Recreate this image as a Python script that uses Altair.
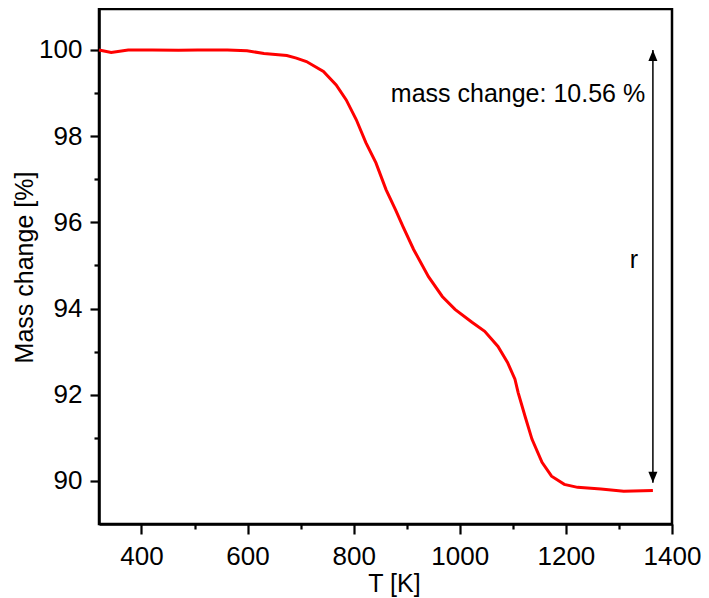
import altair as alt
import pandas as pd

# TGA curve
temperature = [320, 343, 375, 420, 470, 506, 562, 599, 631, 674, 692, 711, 743, 767,
               786, 805, 823, 842, 861, 879, 893, 913, 941, 967, 991, 1023, 1047,
               1072, 1090, 1104, 1110, 1123, 1136, 1155, 1173, 1197, 1222, 1266,
               1309, 1364]
mass = [100.00, 99.94, 100.00, 100.00, 99.99, 100.00, 100.00, 99.98, 99.92, 99.87,
        99.81, 99.73, 99.50, 99.19, 98.84, 98.38, 97.85, 97.38, 96.76, 96.29,
        95.90, 95.37, 94.74, 94.28, 93.98, 93.68, 93.47, 93.12, 92.75, 92.36,
        92.05, 91.50, 90.97, 90.43, 90.11, 89.92, 89.85, 89.81, 89.76, 89.78]

x_tick_values = [400, 500, 600, 700, 800, 900, 1000, 1100, 1200, 1300, 1400]
y_tick_values = [90, 91, 92, 93, 94, 95, 96, 97, 98, 99, 100]

arrow_T = [1364]
arrow_top = [100.0]
arrow_bottom = [89.96]

labels = ["mass change: 10.56 %", "r"]
label_T = [870, 1328]
label_M = [98.80, 94.95]
label_align = ["left", "center"]

FONT = "Liberation Sans"

curve = pd.DataFrame({"T": temperature, "M": mass})
arrow = pd.DataFrame({"T": arrow_T, "top": arrow_top, "bottom": arrow_bottom})
ann = pd.DataFrame({"T": label_T, "M": label_M, "text": labels, "align": label_align})

xs = alt.Scale(domain=[320, 1400], nice=False, zero=False)
ys = alt.Scale(domain=[89, 100.95], nice=False, zero=False)

x_axis = alt.Axis(
    values=x_tick_values, title="T [K]", grid=False, format="d",
    labelExpr="datum.value % 200 === 0 ? datum.label : ''",
    tickSize={"condition": {"test": "datum.value % 200 === 0", "value": 10}, "value": 5},
    labelPadding=9, labelOverlap=False, labelFlush=False, labelBound=False,
    titleX=295, titleY=67, titleBaseline="alphabetic", titleAlign="center",
)
y_axis = alt.Axis(
    values=y_tick_values, title="Mass change [%]", grid=False, format="d",
    labelExpr="datum.value % 2 === 0 ? datum.label : ''",
    tickSize={"condition": {"test": "datum.value % 2 === 0", "value": 9}, "value": 5},
    labelPadding=8, labelOverlap=False, labelFlush=False, labelBound=False,
    titleX=-67, titleY=258, titleAngle=270, titleBaseline="alphabetic", titleAlign="center",
)

line = alt.Chart(curve).mark_line(color="#ff0000", strokeWidth=3).encode(
    x=alt.X("T:Q", scale=xs, axis=x_axis),
    y=alt.Y("M:Q", scale=ys, axis=y_axis),
)

rule = alt.Chart(arrow).mark_rule(color="black", strokeWidth=1.5).encode(
    x="T:Q", y="top:Q", y2="bottom:Q"
)
head_up = alt.Chart(arrow).mark_point(
    filled=True, color="black", opacity=1, size=121, shape="M0,0 L0.82,2 L-0.82,2 Z"
).encode(x="T:Q", y="top:Q")
head_down = alt.Chart(arrow).mark_point(
    filled=True, color="black", opacity=1, size=121, shape="M0,0 L0.82,-2 L-0.82,-2 Z"
).encode(x="T:Q", y="bottom:Q")

text_left = alt.Chart(ann[ann["align"] == "left"]).mark_text(
    align="left", baseline="alphabetic", font=FONT, fontSize=25, color="black"
).encode(x="T:Q", y="M:Q", text="text:N")
text_center = alt.Chart(ann[ann["align"] == "center"]).mark_text(
    align="center", baseline="alphabetic", font=FONT, fontSize=25, color="black"
).encode(x="T:Q", y="M:Q", text="text:N")

chart = alt.layer(line, rule, head_up, head_down, text_left, text_center).properties(
    width=573, height=515,
    autosize=alt.AutoSizeParams(type="none"),
    padding={"left": 91, "top": 1, "right": 29, "bottom": 74},
).configure_view(
    stroke="black", strokeWidth=2.5
).configure_axis(
    domainColor="black", domainWidth=2.5, tickColor="black", tickWidth=2.2,
    labelFont=FONT, labelFontSize=26, labelColor="black",
    titleFont=FONT, titleFontSize=25, titleColor="black", titleFontWeight="normal",
)

chart.save("out.html", embed_options={"renderer": "svg", "actions": False})
